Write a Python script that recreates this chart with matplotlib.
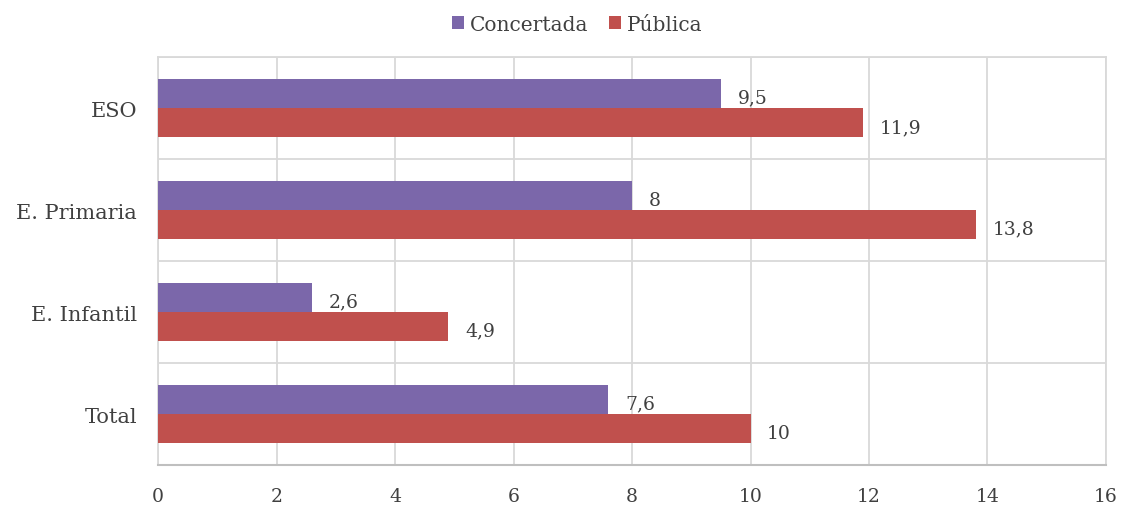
import matplotlib.pyplot as plt
import numpy as np

categorias = ["Total", "E. Infantil", "E. Primaria", "ESO"]
concertada = [7.6, 2.6, 8, 9.5]
publica = [10, 4.9, 13.8, 11.9]
ticks_x = [0, 2, 4, 6, 8, 10, 12, 14, 16]

color_conc = '#7b67aa'
color_pub = '#c0504d'
gris = '#d9d9d9'

plt.rcParams['font.family'] = ['DejaVu Serif']

fig = plt.figure(figsize=(11.21, 5.06), dpi=100)
ax = fig.add_axes([0.141, 0.079, 0.8456, 0.806])

y = np.arange(len(categorias))
h = 0.285
b1 = ax.barh(y + h / 2, concertada, height=h, color=color_conc, label='Concertada', zorder=3)
b2 = ax.barh(y - h / 2, publica, height=h, color=color_pub, label='Pública', zorder=3)

def fmt(v):
    return f"{v:g}".replace('.', ',')

# etiquetas de valor al final de cada barra
for bars, vals in ((b1, concertada), (b2, publica)):
    for bar, v in zip(bars, vals):
        ax.annotate(fmt(v), (v, bar.get_y() + bar.get_height() / 2),
                    xytext=(12, -3), textcoords='offset points',
                    va='center', ha='left', fontsize=13.5, color='#404040')

ax.set_xlim(0, 16)
ax.set_ylim(-0.5, 3.5)
ax.set_xticks(ticks_x)
ax.set_xticklabels([str(t) for t in ticks_x])
ax.set_yticks(y)
ax.set_yticklabels(categorias)
ax.set_yticks(np.arange(-0.5, 3.6, 1), minor=True)

ax.grid(axis='x', color=gris, linewidth=1.3, zorder=0)
ax.grid(axis='y', which='minor', color=gris, linewidth=1.3, zorder=0)
ax.tick_params(axis='both', which='both', length=0, colors='#404040', labelsize=15)
ax.tick_params(axis='x', pad=16, labelsize=13.5)
ax.tick_params(axis='y', pad=15)

for s in ('top', 'right', 'left'):
    ax.spines[s].set_color(gris)
    ax.spines[s].set_linewidth(1.3)
ax.spines['bottom'].set_color('#bfbfbf')
ax.spines['bottom'].set_linewidth(1.5)

fig.legend(handles=[b1, b2], loc='center', bbox_to_anchor=(0.515, 0.95), ncol=2,
           frameon=False, fontsize=14.5, handlelength=0.6, handleheight=0.6,
           handletextpad=0.3, columnspacing=1.0, labelcolor='#404040')

fig.savefig('out.png', dpi=100)
